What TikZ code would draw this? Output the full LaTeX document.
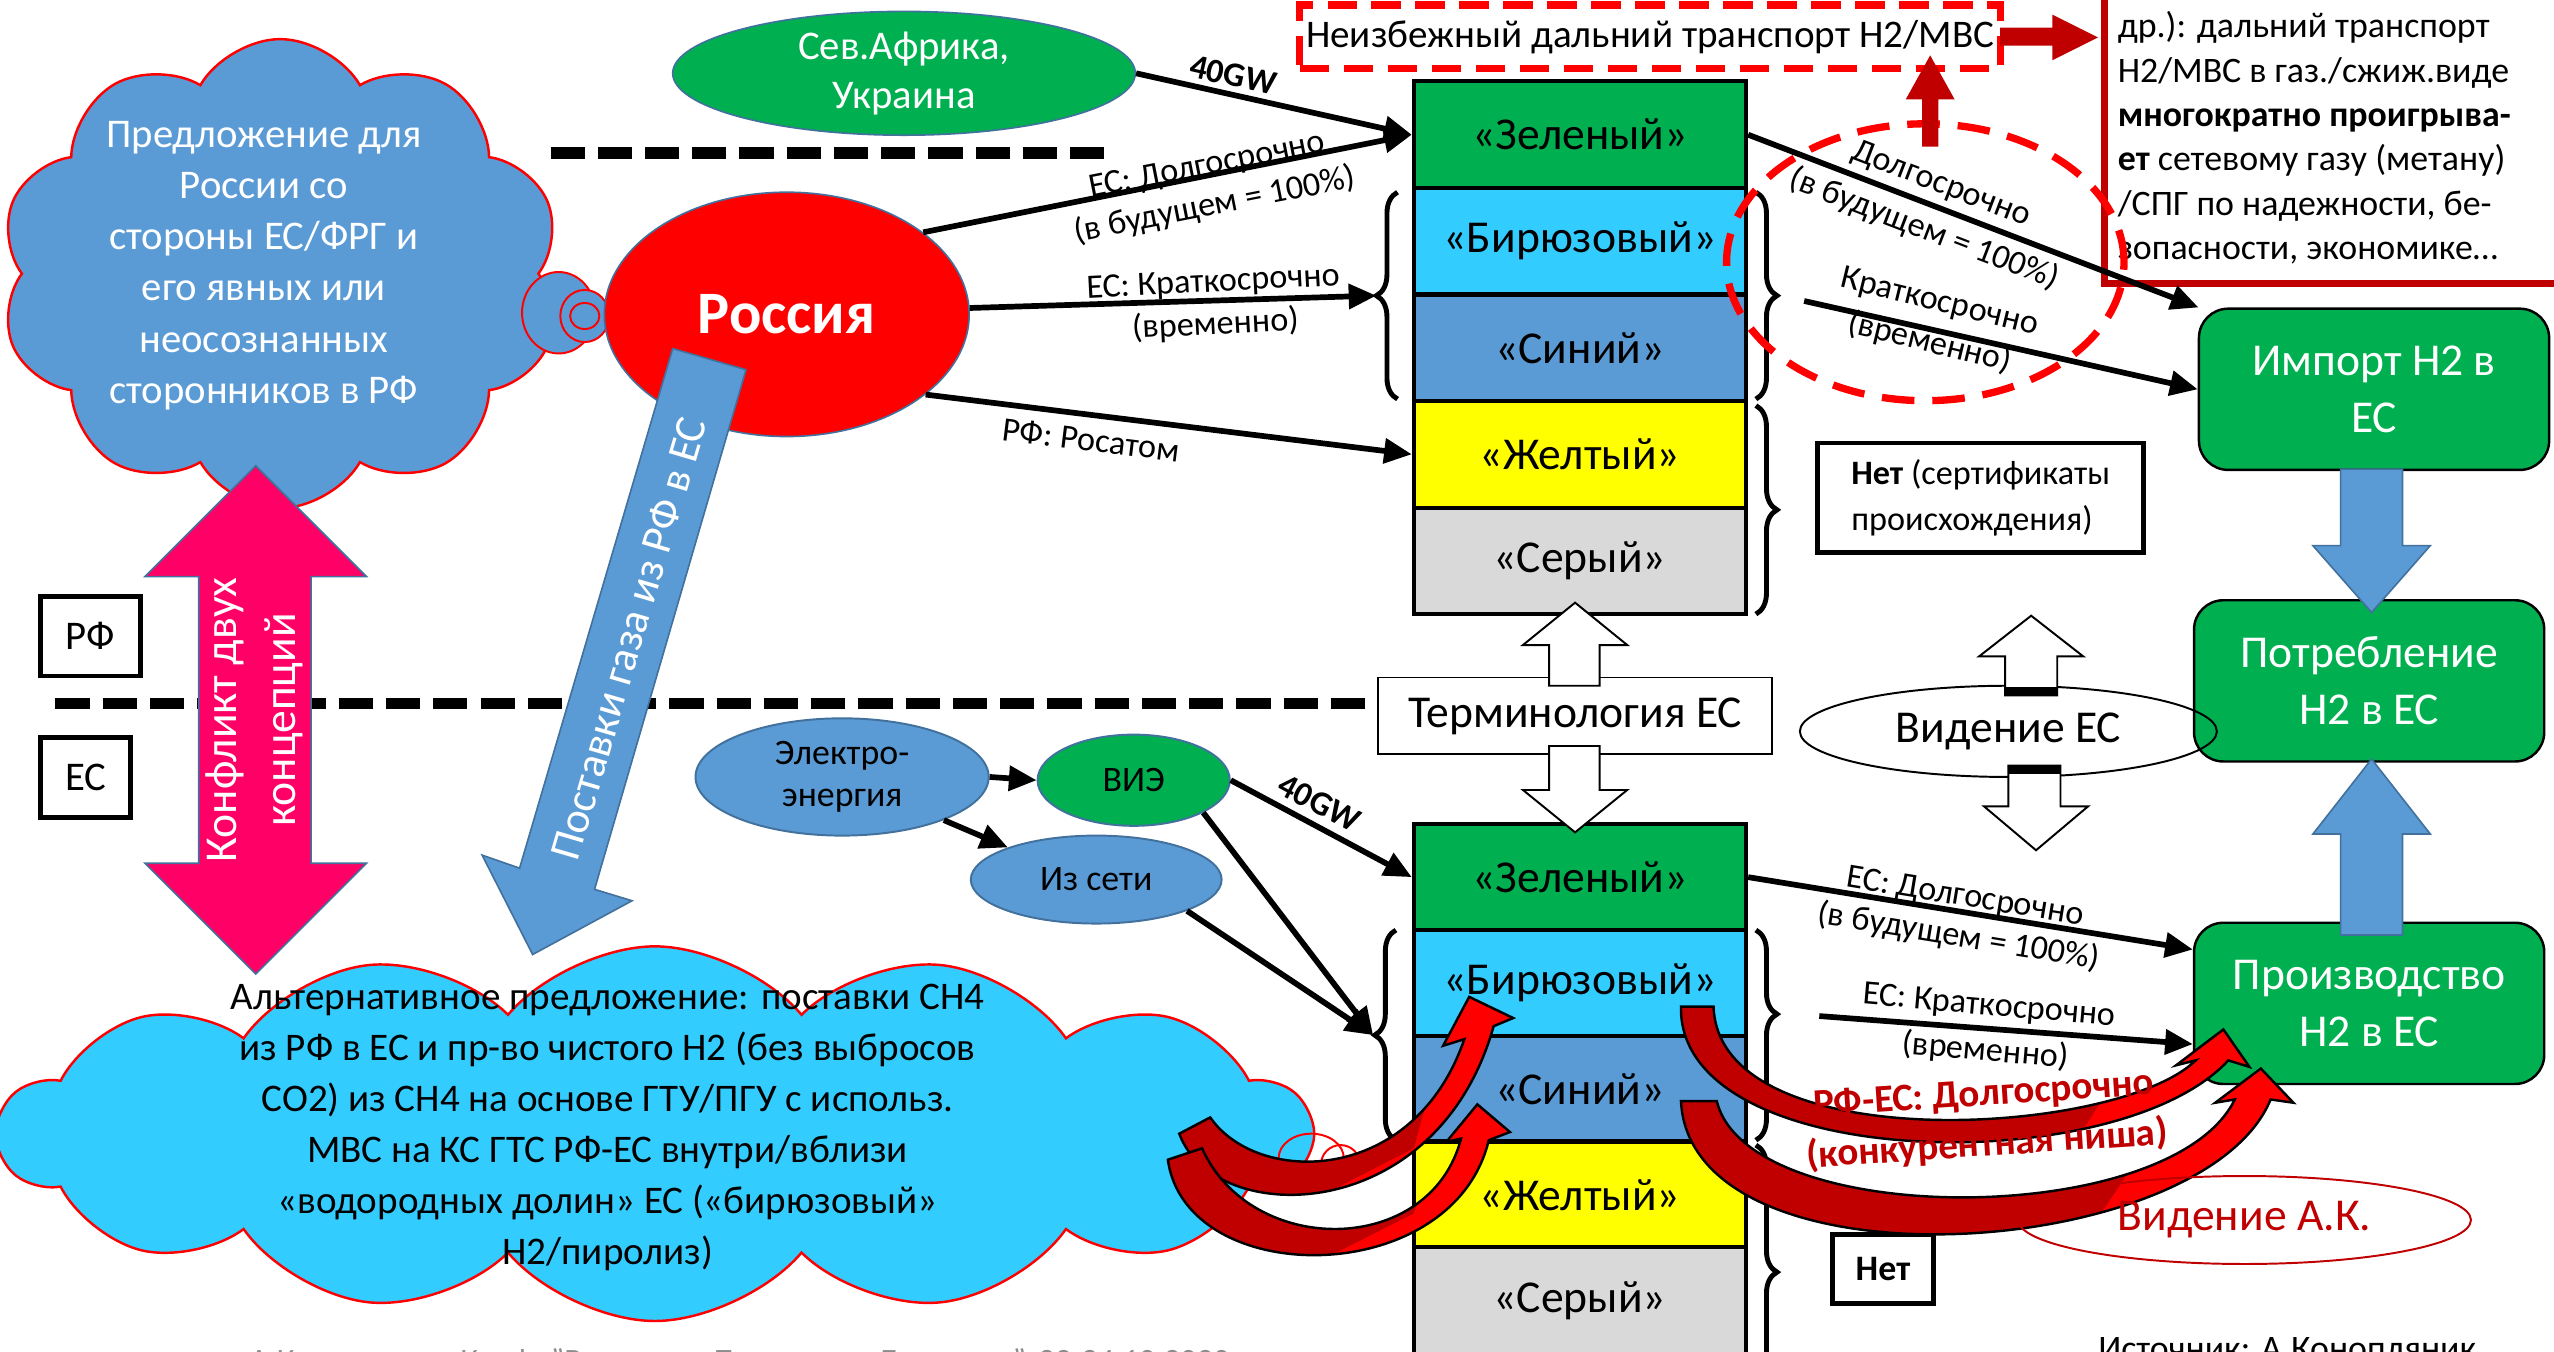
\documentclass[tikz,border=0pt]{standalone}
\usepackage{fontspec}
\setmainfont{Carlito}
\usetikzlibrary{shapes.geometric,shapes.symbols,arrows.meta,decorations.pathreplacing}
\definecolor{cgreen}{HTML}{00B050}
\definecolor{cturq}{HTML}{33CCFF}
\definecolor{cblue}{HTML}{5B9BD5}
\definecolor{cbord}{HTML}{41719C}
\definecolor{cyel}{HTML}{FFFF00}
\definecolor{cgray}{HTML}{D9D9D9}
\definecolor{cdred}{HTML}{C00000}
\definecolor{cred}{HTML}{FF0000}
\definecolor{cpink}{HTML}{FF0066}
\definecolor{cfoot}{HTML}{8C8C8C}
\newcommand{\fs}[2]{\fontsize{#1}{#2}\selectfont}
\tikzset{
  rowbox/.style={draw=black, line width=2.5pt, minimum width=204pt, minimum height=65.4pt, inner sep=0pt, font=\fs{28}{30}},
  greenbox/.style={draw=black, line width=1.5pt, fill=cgreen, rounded corners=18pt, minimum width=215pt, minimum height=99pt, text=white, align=center, font=\fs{28}{35}, inner sep=0pt},
  lbl/.style={font=\fs{21}{25}, align=center, inner sep=0pt},
  blk/.style={line width=3.5pt, -{Triangle[length=17pt,width=15pt]}},
  brc/.style={decorate, decoration={brace, amplitude=13pt}, line width=3pt},
  brcB/.style={decorate, decoration={brace, amplitude=13pt, aspect=0.4}, line width=3pt},
  blkbox/.style={draw=black, line width=3pt, inner sep=0pt},
  whitearrow/.style={draw=black, line width=1.2pt, fill=white},
  bluearrow/.style={draw=cbord, line width=1pt, fill=cblue},
  curvearrow/.style={draw=black, line width=1.5pt},
  bubble/.style={ellipse, draw=cred, line width=1.2pt, inner sep=0pt},
  elli/.style={ellipse, draw=cbord, line width=1.2pt, inner sep=0pt, align=center, font=\fs{22}{26}},
}
\def\arrA{(724,696) .. controls (745,754) and (882,754) .. (917,630) -- (929,625) -- (902,612) -- (886,642) -- (899,638) .. controls (868,728) and (772,728) .. (743,686) -- cycle}
\def\arrB{(717,712) .. controls (728,792) and (892,792) .. (914,700) -- (927,695) -- (907,678) -- (888,701) -- (897,699) .. controls (878,772) and (768,772) .. (738,705) -- cycle}
\def\arrC{(1032,618) .. controls (1030,720) and (1300,725) .. (1368,651) -- (1381,655) -- (1365,632) -- (1336,654) -- (1348,651) .. controls (1300,698) and (1055,712) .. (1052,618) -- cycle}
\def\arrD{(1032,676) .. controls (1038,795) and (1353,775) .. (1394,675) -- (1408,677) -- (1388,656) -- (1360,677) -- (1372,675) .. controls (1333,755) and (1073,755) .. (1054,676) -- cycle}
\begin{document}
\begin{tikzpicture}[x=1pt,y=-1pt]
\useasboundingbox (0,0) rectangle (1568,830);
\fill[white] (0,0) rectangle (1568,830);

% clouds
\node[cloud, cloud puffs=10, cloud puff arc=120, cloud ignores aspect, minimum width=345pt, minimum height=288pt, fill=cblue, draw=cred, line width=1.5pt] (cloudA) at (172,168) {};
\node[text=white, align=center, font=\fs{25}{31.4}, inner sep=0pt] (cloudAtext) at (162,163) {Предложение для\\России со\\стороны ЕС/ФРГ и\\его явных или\\неосознанных\\сторонников в РФ};
\node[bubble, fill=cblue, minimum width=45pt, minimum height=50pt] (tb1) at (343,192) {};
\node[bubble, fill=cblue, minimum width=30pt, minimum height=32pt] (tb2) at (359,194) {};
\node[bubble, minimum width=18pt, minimum height=16pt] (tb3) at (359,194) {};

\node[cloud, cloud puffs=14, cloud puff arc=100, cloud ignores aspect, minimum width=805pt, minimum height=230pt, fill=cturq, draw=cred, line width=1.5pt] (cloudB) at (402,696) {};
\node[align=center, font=\fs{24}{31.3}, inner sep=0pt] (cloudBtext) at (373,692) {Альтернативное предложение: поставки CH4\\из РФ в ЕС и пр-во чистого H2 (без выбросов\\CO2) из CH4 на основе ГТУ/ПГУ с использ.\\МВС на КС ГТС РФ-ЕС внутри/вблизи\\«водородных долин» ЕС («бирюзовый»\\H2/пиролиз)};
\node[bubble, minimum width=40pt, minimum height=30pt] (bb1) at (805,711) {};
\node[bubble, minimum width=24pt, minimum height=24pt] (bb2) at (823,715) {};
\node[bubble, minimum width=13pt, minimum height=13pt] (bb3) at (829,716) {};

% separator lines
\coordinate (dashA1) at (338,94);
\coordinate (dashA2) at (679,94);
\coordinate (dashB1) at (34,432);
\coordinate (dashB2) at (846,432);
\draw[line width=7pt, dash pattern=on 21pt off 8pt] (dashA1) -- (dashA2);
\draw[line width=7pt, dash pattern=on 21pt off 8pt] (dashB1) -- (dashB2);

% Russia, N. Africa
\node[ellipse, fill=cred, draw=cbord, line width=1pt, minimum width=224pt, minimum height=150pt, text=white, font=\bfseries\fs{37}{40}, inner sep=0pt] (russia) at (483,193) {Россия};
\node[ellipse, fill=cgreen, draw=cbord, line width=1pt, minimum width=284pt, minimum height=76pt, text=white, align=center, font=\fs{25}{30}, inner sep=0pt] (sev) at (555,45) {Сев.Африка,\\Украина};

% gas supply arrow
\draw[bluearrow] (413,214) -- (319,533) -- (296,525) -- (327,586) -- (388,553) -- (365,546) -- (458,227) -- cycle;
\node[text=white, rotate=73.6, font=\fs{27}{30}, inner sep=0pt] (gasText) at (386,392) {Поставки газа из РФ в ЕС};

% conflict arrow
\draw[draw=cbord, line width=1pt, fill=cpink] (157,286) -- (225,354) -- (191,354) -- (191,530) -- (225,530) -- (157,598) -- (89,530) -- (122,530) -- (122,354) -- (89,354) -- cycle;
\node[text=white, rotate=90, align=center, font=\fs{28}{36}, inner sep=0pt] (conflict) at (156,442) {Конфликт двух\\концепций};

\node[blkbox, minimum width=61pt, minimum height=49pt, font=\fs{25}{28}] (rf) at (55.5,390.5) {РФ};
\node[blkbox, minimum width=55pt, minimum height=49pt, font=\fs{25}{28}] (es) at (52.5,477.5) {ЕС};

% top-right box
\node[draw=cdred, line width=4.5pt, fill=white, minimum width=290pt, minimum height=190pt, inner sep=0pt] (trbox) at (1437,79) {};
\node[anchor=north west, align=left, font=\fs{22}{27.2}, inner sep=0pt] (trtext) at (1300,7) {др.): дальний транспорт\\H2/МВС в газ./сжиж.виде\\\textbf{многократно проигрыва-}\\\textbf{ет} сетевому газу (метану)\\/СПГ по надежности, бе-\\зопасности, экономике…};

% stacks
\node[rowbox, fill=cgreen] (zT) at (970,82.7) {«Зеленый»};
\node[rowbox, fill=cturq] (bT) at (970,148.1) {«Бирюзовый»};
\node[rowbox, fill=cblue] (sT) at (970,213.5) {«Синий»};
\node[rowbox, fill=cyel] (yT) at (970,278.9) {«Желтый»};
\node[rowbox, fill=cgray] (gT) at (970,344.3) {«Серый»};

\node[rowbox, fill=cgreen] (zB) at (970,538.5) {«Зеленый»};
\node[rowbox, fill=cturq] (bB) at (970,603.5) {«Бирюзовый»};
\node[rowbox, fill=cblue] (sB) at (970,668.5) {«Синий»};
\node[rowbox, fill=cyel] (yB) at (970,733.5) {«Желтый»};
\node[rowbox, fill=cgray] (gB) at (970,798.5) {«Серый»};

% braces
\draw[brc] (858,245) -- (858,118);
\draw[brc] (1078,118) -- (1078,245);
\draw[brc] (1078,249) -- (1078,377);
\draw[brc] (857,700) -- (857,571);
\draw[brcB] (1078,571) -- (1078,700);
\draw[brc] (1078,703) -- (1078,859);
\coordinate (tlTip) at (845,181.5);
\coordinate (trTip) at (1093,181.5);
\coordinate (blTip) at (843,635.5);
\coordinate (brTip) at (1093,622);

% green boxes
\node[greenbox] (imp) at (1457.5,239) {Импорт H2 в\\ЕС};
\node[greenbox] (potr) at (1454.5,418) {Потребление\\H2 в ЕС};
\node[greenbox] (prod) at (1454.5,616) {Производство\\H2 в ЕС};
\draw[bluearrow] (1437,288) -- (1437,335) -- (1420,335) -- (1456,376) -- (1492,335) -- (1475,335) -- (1475,288) -- cycle;
\draw[bluearrow] (1437,574) -- (1437,512) -- (1420,512) -- (1456,466) -- (1492,512) -- (1475,512) -- (1475,574) -- cycle;

% Нет boxes
\node[blkbox, minimum width=200pt, minimum height=67pt, align=left, font=\fs{21}{28}] (net1) at (1216,305.5) {\textbf{Нет} (сертификаты\\происхождения)};
\node[blkbox, minimum width=62pt, minimum height=42pt, font=\bfseries\fs{22}{24}] (net2) at (1156,779) {Нет};

% terminology and vision
\node[draw=black, line width=1pt, fill=white, minimum width=242pt, minimum height=47pt, font=\fs{28}{30}, inner sep=0pt] (term) at (967,439.5) {Терминология ЕС};
\draw[whitearrow] (951,421) -- (951,396) -- (935,396) -- (967,370) -- (999,396) -- (982,396) -- (982,421) -- cycle;
\draw[whitearrow] (951,458) -- (951,485) -- (935,485) -- (967,511) -- (999,485) -- (982,485) -- (982,458) -- cycle;
\node[ellipse, draw=black, line width=1.2pt, minimum width=256pt, minimum height=56pt, font=\fs{28}{30}, inner sep=0pt] (vis) at (1233,449) {Видение ЕС};
\draw[whitearrow] (1231,427) -- (1231,403) -- (1215,403) -- (1247,378) -- (1279,403) -- (1263,403) -- (1263,427) -- cycle;
\fill (1231,422) rectangle (1263,427);
\draw[whitearrow] (1233,470) -- (1233,495) -- (1218,495) -- (1250,522) -- (1282,495) -- (1265,495) -- (1265,470) -- cycle;
\fill (1233,470) rectangle (1265,475);

% electricity
\node[elli, fill=cblue, minimum width=180pt, minimum height=72pt] (el) at (517,477) {Электро-\\энергия};
\node[elli, fill=cgreen, minimum width=118pt, minimum height=56pt] (vie) at (696,479) {ВИЭ};
\node[elli, fill=cblue, minimum width=154pt, minimum height=54pt] (iz) at (673,540) {Из сети};

% black arrows
\draw[blk] (sev.east) -- (zT.west);
\draw[blk] (russia.31) -- (zT.west);
\draw[blk] (russia.2) -- (tlTip);
\draw[blk] (russia.-30) -- (yT.west);
\draw[blk] (zT.east) -- (imp.155);
\draw[blk, shorten <=15pt] (trTip) -- (imp.west);
\draw[blk] (zB.east) -- (prod.163);
\draw[blk, shorten <=24pt] (brTip) -- (prod.193);
\draw[blk] (vie.east) -- (zB.west);
\draw[blk] (vie.-25.5) -- (blTip);
\draw[blk] (iz.-19) -- (blTip);
\draw[blk] (el.east) -- (vie.west);
\draw[blk] (el.-23) -- (iz.160.6);

% labels
\node[lbl, font=\bfseries\fs{21}{24}, rotate=-12.5] (gw1) at (757,46) {40GW};
\node[lbl, rotate=11.2] (l1) at (743.5,114.5) {ЕС: Долгосрочно\\(в будущем = 100\%)};
\node[lbl, font=\fs{21}{26}, rotate=3] (l2) at (745.5,187) {ЕС: Краткосрочно\\(временно)};
\node[lbl, rotate=-7] (l3) at (670,270) {РФ: Росатом};
\node[lbl, font=\fs{21}{30}, rotate=-21] (l4) at (1186.5,127.5) {Долгосрочно\\(в будущем = 100\%)};
\node[lbl, font=\fs{21}{26}, rotate=-13.7] (l5) at (1187.5,198.5) {Краткосрочно\\(временно)};
\node[lbl, rotate=-9.3] (l6) at (1204.5,563.5) {ЕС: Долгосрочно\\(в будущем = 100\%)};
\node[lbl, font=\fs{21}{28}, rotate=-5] (l7) at (1220,632) {ЕС: Краткосрочно\\(временно)};
\node[lbl, font=\bfseries\fs{21}{24}, rotate=-27.6] (gw2) at (810,493) {40GW};

% red curved arrows
\begin{scope}
\clip \arrA;
\fill[cdred] (700,580) rectangle (960,800);
\fill[cred] (790,745) -- (868,705) -- (900,590) -- (960,590) -- (960,800) -- (790,800) -- cycle;
\end{scope}
\draw[curvearrow] \arrA;
\begin{scope}
\clip \arrB;
\fill[cdred] (700,640) rectangle (960,820);
\fill[cred] (795,782) -- (868,745) -- (900,650) -- (960,650) -- (960,820) -- (795,820) -- cycle;
\end{scope}
\draw[curvearrow] \arrB;
\begin{scope}
\clip \arrC;
\fill[cdred] (1020,600) rectangle (1420,760);
\fill[cred] (1195,720) -- (1280,692) -- (1338,600) -- (1420,600) -- (1420,760) -- (1195,760) -- cycle;
\end{scope}
\draw[curvearrow] \arrC;
\begin{scope}
\clip \arrD;
\fill[cdred] (1020,640) rectangle (1420,800);
\fill[cred] (1190,775) -- (1290,745) -- (1360,640) -- (1420,640) -- (1420,800) -- (1190,800) -- cycle;
\end{scope}
\draw[curvearrow] \arrD;

\node[text=cdred, align=center, font=\bfseries\fs{24}{31}, rotate=3.8, inner sep=0pt] (rfes) at (1219,688) {РФ-ЕС: Долгосрочно\\(конкурентная ниша)};
\node[ellipse, draw=cdred, line width=1.2pt, minimum width=278pt, minimum height=54pt, text=cdred, font=\fs{28}{30}, inner sep=0pt] (visAK) at (1378,749) {Видение А.К.};

% red dashed highlights
\node[ellipse, draw=cred, line width=4.5pt, dash pattern=on 20pt off 11pt, minimum width=244pt, minimum height=170pt] (dashEll) at (1182,161) {};
\node[draw=cred, line width=4.5pt, dash pattern=on 18pt off 9pt, minimum width=430pt, minimum height=39pt, font=\fs{24}{28}, inner sep=0pt] (inev) at (1013,22.5) {Неизбежный дальний транспорт H2/МВС};
\fill[cdred] (1228,17) -- (1260,17) -- (1260,9) -- (1288,23) -- (1260,37) -- (1260,28) -- (1228,28) -- cycle;
\fill[cdred] (1180,90) -- (1180,61) -- (1170,61) -- (1185,34) -- (1200,61) -- (1190,61) -- (1190,90) -- cycle;

% footers
\node[anchor=base west, text=cfoot, font=\fs{20}{24}, inner sep=0pt] (foot1) at (153,842) {А.Конопляник, Конф. "Водород – Технологии Будущего", 23-24.10.2020};
\node[anchor=base west, font=\fs{22}{24}, inner sep=0pt] (foot2) at (1288,835) {Источник: А.Конопляник};
\end{tikzpicture}
\end{document}
